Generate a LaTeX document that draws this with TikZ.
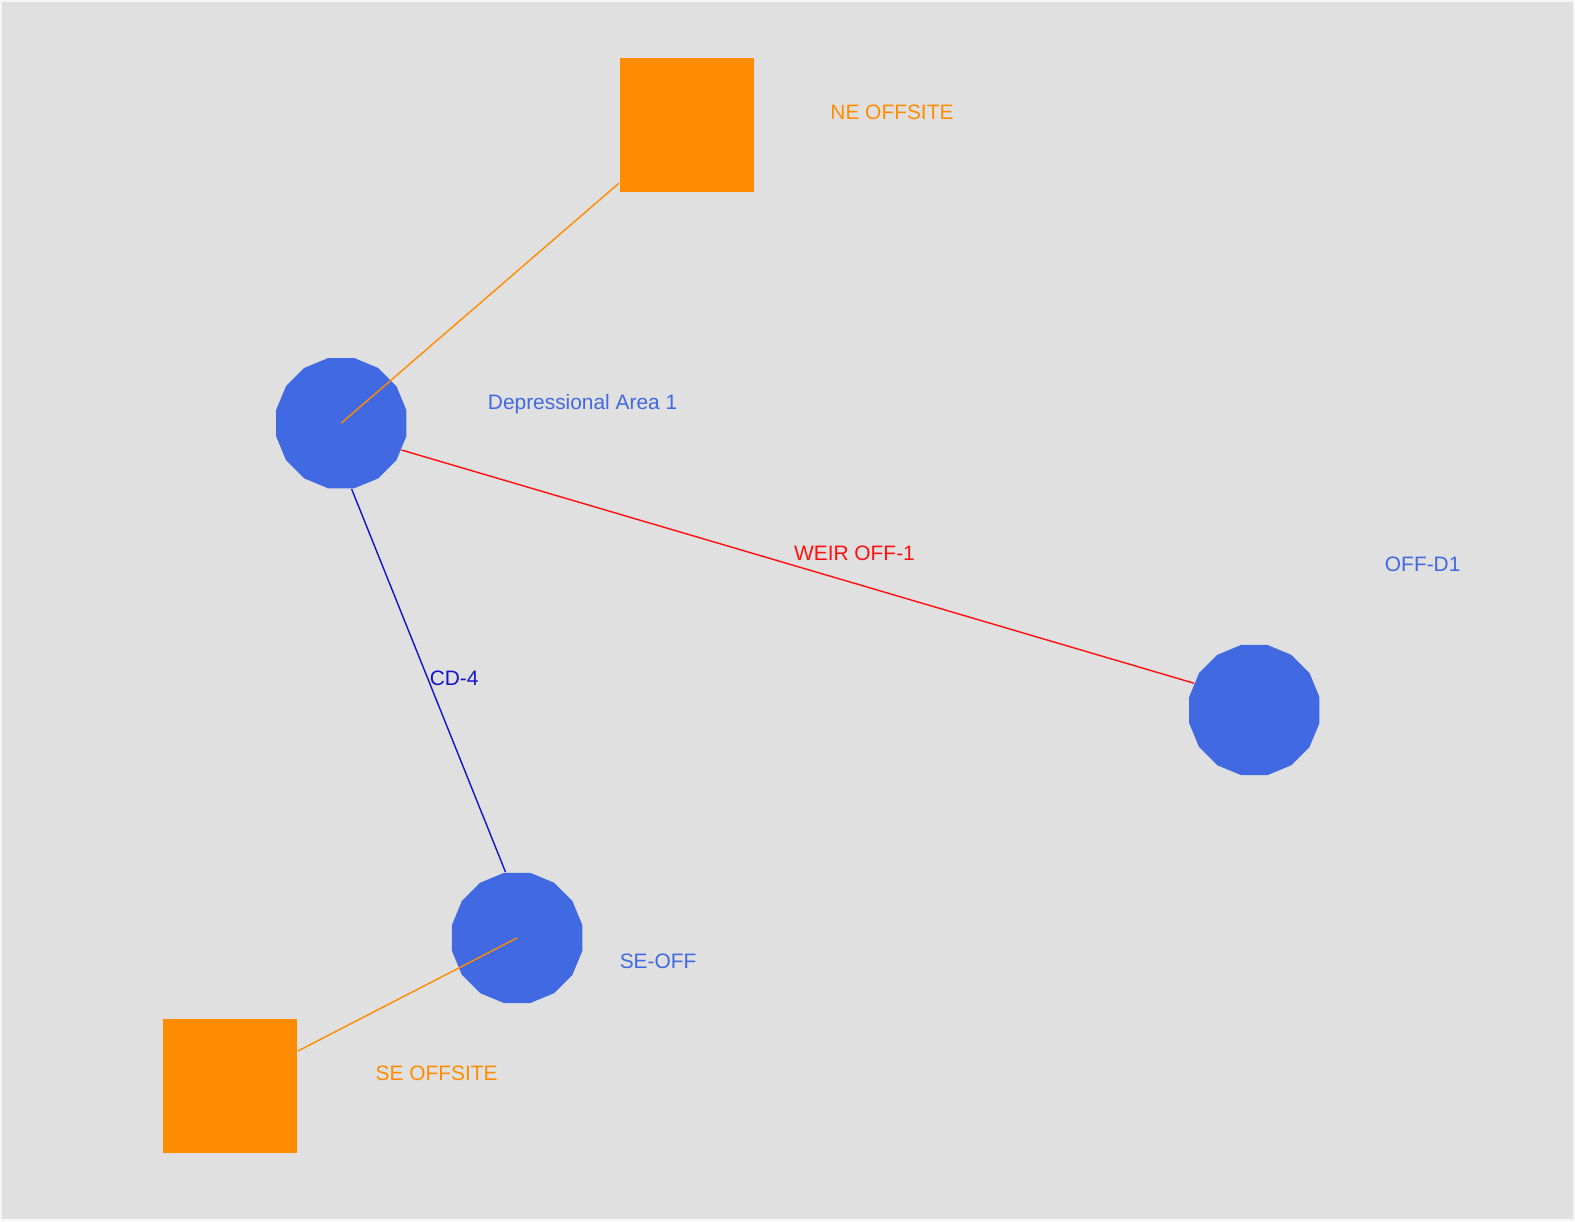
\documentclass[tikz,border=0pt]{standalone}
\usepackage{fontspec}
\setmainfont{Liberation Sans}
\usepackage{tikz}
\usetikzlibrary{shapes.geometric}
\definecolor{bgray}{HTML}{E0E0E0}
\definecolor{jblue}{HTML}{4169E1}
\definecolor{jorange}{HTML}{FF8C00}
\definecolor{jred}{HTML}{FF1010}
\definecolor{jnavy}{HTML}{1414C8}
\tikzset{
    junction/.style={regular polygon, regular polygon sides=16,
        fill=jblue, draw=none, minimum size=2.66cm, inner sep=0pt},
    outfall/.style={rectangle, fill=jorange, draw=none, minimum size=2.68cm, inner sep=0pt},
    lbl/.style={inner sep=0pt, font=\fontsize{11.9}{14}\selectfont}
}

\begin{document}
\begin{tikzpicture}[x=0.02cm, y=-0.02cm, line width=0.8pt]
            \fill[bgray] (0,0) rectangle (1575,1221);
            \draw[white!70!bgray, line width=1pt] (0.5,0.5) rectangle (1574.5,1220.5);
            \useasboundingbox (0,0) rectangle (1575,1221);
            % nodes
            \node[outfall] (neoff) at (686.5,124.5) {};
            \node[outfall] (seoffsite) at (230,1086) {};
            \node[junction] (da1) at (341,423) {};
            \node[junction] (offd1) at (1254.5,710) {};
            \node[junction] (seoff) at (517,938) {};
            % links
            \draw[jorange] (da1.center) -- (neoff);
            \draw[jorange] (seoff.center) -- (seoffsite);
            \draw[jred] (da1.-24) -- (offd1.156);
            \draw[jnavy] (da1.-81.5) -- (seoff.100.6);
            % labels
            \node[lbl, text=jorange] (neofflbl) at (892,111.7) {NE OFFSITE};
            \node[lbl, text=jblue] (da1lbl) at (582.5,404) {Depressional Area 1};
            \node[lbl, text=jred] (weirlbl) at (854.5,553.5) {WEIR OFF-1};
            \node[lbl, text=jblue] (offd1lbl) at (1423,564.5) {OFF-D1};
            \node[lbl, text=jnavy] (cd4lbl) at (454,678) {CD-4};
            \node[lbl, text=jblue] (seofflbl) at (658,961) {SE-OFF};
            \node[lbl, text=jorange] (seoffsitelbl) at (436.5,1073) {SE OFFSITE};
        \end{tikzpicture}
\end{document}
